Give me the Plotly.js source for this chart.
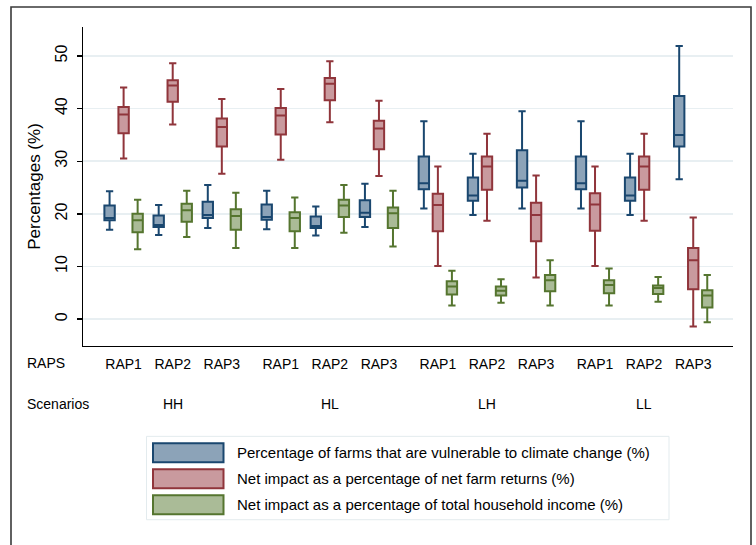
<!DOCTYPE html>
<html>
<head>
<meta charset="utf-8">
<script src="https://cdn.plot.ly/plotly-3.0.1.min.js"></script>
<style>html,body{margin:0;padding:0;background:#fff;}#chart{width:756px;height:545px;}</style>
</head>
<body>
<div id="chart"></div>
<script>
// ---- data ----
const scenarios = ['HH', 'HL', 'LH', 'LL'];
const raps = ['RAP1', 'RAP2', 'RAP3'];
const seriesNames = [
  'Percentage of farms that are vulnerable to climate change (%)',
  'Net impact as a percentage of net farm returns (%)',
  'Net impact as a percentage of total household income (%)'
];
// order: HH RAP1..3, HL RAP1..3, LH RAP1..3, LL RAP1..3
const vulnLower  = [17.0, 16.0, 17.3, 17.1, 15.9, 17.5, 21.0, 19.8, 21.0, 21.0, 19.8, 26.6];
const vulnQ1     = [18.8, 17.5, 19.2, 18.9, 17.3, 19.4, 24.7, 22.5, 25.0, 24.7, 22.5, 32.8];
const vulnMedian = [19.2, 17.9, 19.8, 19.4, 17.7, 20.2, 25.8, 23.5, 26.3, 25.8, 23.5, 35.0];
const vulnQ3     = [21.6, 19.7, 22.3, 21.8, 19.5, 22.6, 30.9, 26.9, 32.1, 30.9, 26.9, 42.4];
const vulnUpper  = [24.3, 21.7, 25.5, 24.4, 21.4, 25.7, 37.6, 31.4, 39.5, 37.6, 31.4, 51.9];

const farmLower  = [30.5, 37.0, 27.6, 30.3, 37.4, 27.2, 10.1, 18.7, 7.9, 10.1, 18.7, -1.4];
const farmQ1     = [35.3, 41.3, 32.8, 35.1, 41.6, 32.3, 16.7, 24.6, 14.8, 16.8, 24.6, 5.7];
const farmMedian = [38.9, 44.4, 36.5, 38.7, 44.7, 36.2, 21.7, 29.0, 19.8, 21.8, 29.0, 11.2];
const farmQ3     = [40.3, 45.4, 38.1, 40.1, 45.8, 37.7, 23.8, 30.9, 22.1, 23.9, 30.9, 13.5];
const farmUpper  = [44.0, 48.6, 41.8, 43.7, 49.0, 41.5, 29.0, 35.2, 27.3, 29.0, 35.2, 19.3];

const hhLower  = [13.3, 15.6, 13.5, 13.5, 16.4, 13.8, 2.6, 3.1, 2.6, 2.6, 3.3, -0.6];
const hhQ1     = [16.5, 18.5, 17.0, 16.7, 19.4, 17.3, 4.7, 4.5, 5.3, 4.9, 4.8, 2.2];
const hhMedian = [18.8, 20.7, 19.6, 19.2, 21.6, 20.1, 6.2, 5.4, 7.4, 6.5, 5.9, 4.5];
const hhQ3     = [20.0, 21.9, 20.9, 20.3, 22.7, 21.2, 7.2, 6.2, 8.4, 7.4, 6.4, 5.5];
const hhUpper  = [22.7, 24.4, 24.0, 23.1, 25.5, 24.4, 9.2, 7.6, 11.2, 9.6, 8.0, 8.4];

const yTicks = [0, 10, 20, 30, 40, 50];

// ---- styling ----
const lineColors = ['#1a476f', '#90353b', '#55752f'];
const fillColors = ['#8ca3b8', '#c99a9e', '#aabb97'];
const FONT = 'Liberation Sans, Arial, sans-serif';

// positions: rap index within scenario group, extra gap between groups
const GROUP_STEP = 3.2;
const xPos = [], xText = [];
scenarios.forEach((s, si) => raps.forEach((r, ri) => { xPos.push(si * GROUP_STEP + ri); xText.push(r); }));

const stats = [
  [vulnLower, vulnQ1, vulnMedian, vulnQ3, vulnUpper],
  [farmLower, farmQ1, farmMedian, farmQ3, farmUpper],
  [hhLower, hhQ1, hhMedian, hhQ3, hhUpper]
];

const traces = stats.map((st, i) => ({
  type: 'box',
  name: seriesNames[i],
  x: xPos,
  lowerfence: st[0], q1: st[1], median: st[2], q3: st[3], upperfence: st[4],
  boxpoints: false,
  fillcolor: fillColors[i],
  line: { color: lineColors[i], width: 2 },
  whiskerwidth: 0.7,
  showlegend: false,
  hoverinfo: 'skip'
}));

// plot area in pixels
const L = 83, R = 733, T = 27, B = 346.5;
const W = 756, H = 545;
const fx = px => (px - L) / (R - L);
const fy = py => (B - py) / (B - T);

const shapes = [];
const annotations = [];

// outer frame
shapes.push({ type: 'rect', xref: 'paper', yref: 'paper', x0: fx(11), x1: fx(751), y0: fy(580), y1: fy(7),
  line: { color: '#3a3a3a', width: 1.6 }, fillcolor: 'rgba(0,0,0,0)', layer: 'below' });

// legend box
shapes.push({ type: 'rect', xref: 'paper', yref: 'paper', x0: fx(146.5), x1: fx(669), y0: fy(520.5), y1: fy(437),
  line: { color: '#e3ebee', width: 1 }, fillcolor: '#ffffff', layer: 'below' });
seriesNames.forEach((n, i) => {
  const top = 444 + i * 26;
  shapes.push({ type: 'rect', xref: 'paper', yref: 'paper', x0: fx(153), x1: fx(223.5), y0: fy(top + 19), y1: fy(top),
    line: { color: lineColors[i], width: 2 }, fillcolor: fillColors[i] });
  annotations.push({ xref: 'paper', yref: 'paper', x: fx(235), y: fy(top + 9.5), xanchor: 'left', yanchor: 'middle',
    text: n, showarrow: false, font: { family: FONT, size: 15, color: '#000' } });
});

// row labels
annotations.push({ xref: 'paper', yref: 'paper', x: fx(25), y: fy(364), xanchor: 'left', yanchor: 'middle',
  text: 'RAPS', showarrow: false, font: { family: FONT, size: 14, color: '#000' } });
annotations.push({ xref: 'paper', yref: 'paper', x: fx(25), y: fy(405), xanchor: 'left', yanchor: 'middle',
  text: 'Scenarios', showarrow: false, font: { family: FONT, size: 14, color: '#000' } });
scenarios.forEach((s, si) => {
  annotations.push({ xref: 'x', yref: 'paper', x: si * GROUP_STEP + 1, y: fy(405), xanchor: 'center', yanchor: 'middle',
    text: s, showarrow: false, font: { family: FONT, size: 14, color: '#000' } });
});

const layout = {
  width: W, height: H,
  margin: { l: L, r: W - R, t: T, b: H - B, pad: 0 },
  paper_bgcolor: '#ffffff', plot_bgcolor: '#ffffff',
  font: { family: FONT, color: '#000' },
  showlegend: false,
  boxmode: 'group',
  boxgap: 0.143,
  boxgroupgap: 0.26,
  xaxis: {
    range: [-0.827, 12.41],
    tickmode: 'array', tickvals: xPos, ticktext: xText,
    ticks: '', showgrid: false, zeroline: false,
    showline: true, linecolor: '#000', linewidth: 1.3,
    tickfont: { family: FONT, size: 14, color: '#000' },
    ticklabelstandoff: 5
  },
  yaxis: {
    range: [-5.1, 55.5],
    tickmode: 'array', tickvals: yTicks, ticktext: yTicks.map(String),
    tickangle: -90,
    ticks: 'outside', ticklen: 5, tickwidth: 1.3, tickcolor: '#000',
    ticklabelstandoff: 3,
    showgrid: true, gridcolor: '#e8eff2', gridwidth: 1.5,
    zeroline: false,
    showline: true, linecolor: '#000', linewidth: 1.3,
    tickfont: { family: FONT, size: 16, color: '#000' },
    title: { text: 'Percentages (%)', font: { family: FONT, size: 17, color: '#000' }, standoff: 8 }
  },
  shapes: shapes,
  annotations: annotations
};

Plotly.newPlot('chart', traces, layout, { displayModeBar: false, staticPlot: true });
</script>
</body>
</html>
